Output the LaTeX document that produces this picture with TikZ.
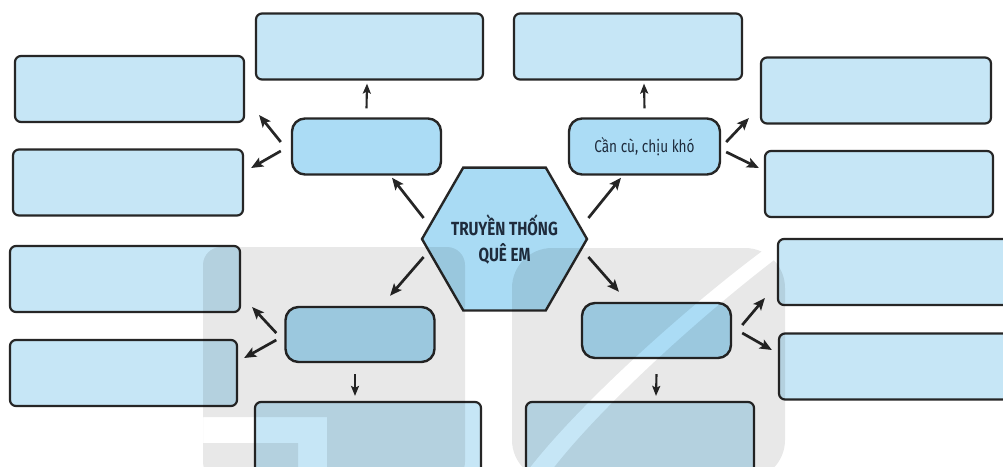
\documentclass[tikz,border=0pt]{standalone}
\usepackage{fontspec}
\setmainfont{Fira Sans}
\newfontfamily\condfont{Fira Sans}[FakeStretch=0.8]
\usetikzlibrary{arrows.meta,shapes.geometric,calc}
\definecolor{boxfill}{HTML}{C6E6F6}
\definecolor{midfill}{HTML}{ABDCF5}
\definecolor{hexfill}{HTML}{A9DBF4}
\definecolor{edge}{HTML}{262626}
\definecolor{ink}{HTML}{1E2B3C}
\begin{document}
\begin{tikzpicture}[x=1pt,y=-1pt,
  bigbox/.style={draw=edge, line width=2.2pt, fill=boxfill, rounded corners=6pt,
    minimum height=66pt, inner sep=0pt},
  midbox/.style={draw=edge, line width=2.4pt, fill=midfill, rounded corners=13pt,
    minimum width=149pt, minimum height=56pt, inner sep=0pt,
    font=\condfont\fontsize{17}{19}\selectfont, text=ink},
  arr/.style={draw=edge, line width=2.7pt, -{Stealth[length=12pt,width=10pt,inset=2.5pt]}},
  varr/.style={draw=edge, line width=2.1pt, -{Stealth[length=10pt,width=8pt,inset=2pt]}},
  wm/.style={fill=black, fill opacity=0.09}
]
\useasboundingbox (0,0) rectangle (1003,466);
\fill[white] (0,0) rectangle (1003,466);
\clip (0,0) rectangle (1003,466);

% outer boxes
\node[bigbox, minimum width=227pt] (t1) at (369.5,46.5) {};
\node[bigbox, minimum width=228pt] (t2) at (628,46.5) {};
\node[bigbox, minimum width=229pt] (l1) at (129.5,89) {};
\node[bigbox, minimum width=230pt] (l2) at (128,182.5) {};
\node[bigbox, minimum width=230pt] (l3) at (125,279) {};
\node[bigbox, minimum width=227pt] (l4) at (123.5,373) {};
\node[bigbox, minimum width=230pt] (r1) at (876,90.5) {};
\node[bigbox, minimum width=228pt] (r2) at (879,184) {};
\node[bigbox, minimum width=232pt] (r3) at (894,272) {};
\node[bigbox, minimum width=231pt] (r4) at (894.5,366.5) {};
\node[bigbox, minimum width=226pt, minimum height=78pt] (b1) at (368,441) {};
\node[bigbox, minimum width=228pt, minimum height=78pt] (b2) at (640,441) {};

% middle boxes
\node[midbox] (ml) at (366.5,146.5) {};
\node[midbox, minimum width=151pt] (mr) at (644.5,146.5) {Cần cù, chịu khó};
\node[midbox, minimum height=55pt] (lm) at (360,334.5) {};
\node[midbox, minimum height=55pt] (rm) at (656.5,330.5) {};

% centre hexagon
\node[regular polygon, regular polygon sides=6, minimum size=165pt, inner sep=0pt,
  draw=edge, line width=2.4pt, fill=hexfill] (hex) at (504.5,239) {};
\node[align=center, text=ink, inner sep=0pt,
  font=\condfont\bfseries\fontsize{19}{26}\selectfont] (hextext) at (hex.center)
  {TRUYỀN THỐNG\\QUÊ EM};

% arrows from hexagon
\draw[arr] ([shift={(3,-21)}]hex.west) -- ([shift={(25.5,2)}]ml.south);
\draw[arr] ([shift={(0,-21)}]hex.east) -- ([shift={(-23.5,2)}]mr.south);
\draw[arr] ([shift={(3,18)}]hex.west) -- ([shift={(30,-10)}]lm.north);
\draw[arr] ([shift={(0,18)}]hex.east) -- ([shift={(-37.5,-10)}]rm.north);

% arrows from middle boxes
\draw[varr] ([shift={(0,-9)}]ml.north) -- ([shift={(-2.5,3)}]t1.south);
\draw[varr] ([shift={(0,-9)}]mr.north) -- ([shift={(16,3)}]t2.south);
\draw[arr] ([shift={(-10,-4.5)}]ml.west) -- ([shift={(14,26)}]l1.east);
\draw[arr] ([shift={(-10,4.5)}]ml.west) -- ([shift={(7,-14.5)}]l2.east);
\draw[arr] ([shift={(5,-4.5)}]mr.east) -- ([shift={(-11,27.5)}]r1.west);
\draw[arr] ([shift={(5,5.5)}]mr.east) -- ([shift={(-5,-16)}]r2.west);
\draw[arr] ([shift={(-8,-1.5)}]lm.west) -- ([shift={(11,28)}]l3.east);
\draw[arr] ([shift={(-8,5.5)}]lm.west) -- ([shift={(6,-15)}]l4.east);
\draw[arr] ([shift={(10,-5.5)}]rm.east) -- ([shift={(-12,26)}]r3.west);
\draw[arr] ([shift={(10,2.5)}]rm.east) -- ([shift={(-6,-16.5)}]r4.west);
\draw[varr] ([shift={(-5,11)}]lm.south) -- ([shift={(-13,-5)}]b1.north);
\draw[varr] ([shift={(0,15)}]rm.south) -- ([shift={(16,-5)}]b2.north);

% watermark (translucent tint)
\begin{scope}
  \clip (0,240) -- (773,243) .. controls (688,305) and (578,405) .. (528,470) -- (0,470) -- cycle;
  \fill[wm, even odd rule, rounded corners=18pt] (203,480) -- (203,247) -- (465,247) -- (465,480) -- cycle
    [sharp corners] (203,417) -- (327,417) -- (327,480) -- (298,480) -- (298,443) -- (203,443) -- cycle;
  \fill[wm, rounded corners=40pt] (512,480) -- (512,248) -- (785,248) -- (785,480) -- cycle;
\end{scope}
\begin{scope}
  \clip (797,243) .. controls (712,305) and (602,405) .. (552,470) -- (1010,470) -- (1010,240) -- cycle;
  \fill[wm, rounded corners=40pt] (512,480) -- (512,248) -- (785,248) -- (785,480) -- cycle;
\end{scope}
\end{tikzpicture}
\end{document}
